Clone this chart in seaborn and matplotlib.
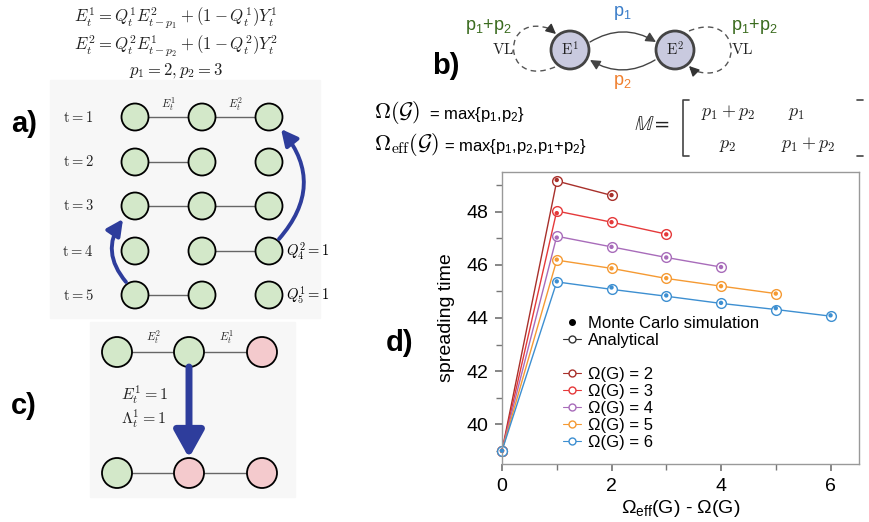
import numpy as np
import pandas as pd
import matplotlib
matplotlib.use('Agg')
import matplotlib.pyplot as plt
import seaborn as sns
from matplotlib.patches import Circle, FancyArrowPatch, PathPatch, Rectangle
from matplotlib.path import Path
from matplotlib.lines import Line2D
from matplotlib.ticker import MultipleLocator

# data of panel d
omega_values = [2, 3, 4, 5, 6]
dx_values = [0, 1, 2, 3, 4, 5, 6]
analytic_w2 = [39.0, 49.16, 48.62]
analytic_w3 = [39.0, 48.03, 47.61, 47.16]
analytic_w4 = [39.0, 47.08, 46.68, 46.28, 45.92]
analytic_w5 = [39.0, 46.18, 45.87, 45.49, 45.20, 44.92]
analytic_w6 = [39.0, 45.36, 45.08, 44.82, 44.55, 44.32, 44.07]
mc_w2 = [39.0, 49.20, 48.63]
mc_w3 = [39.0, 47.95, 47.61, 47.15]
mc_w4 = [39.0, 47.03, 46.68, 46.28, 45.92]
mc_w5 = [39.0, 46.20, 45.87, 45.50, 45.20, 44.92]
mc_w6 = [39.0, 45.38, 45.15, 44.85, 44.57, 44.37, 44.10]
omega_colors = ['#a8302b', '#e5393a', '#a86cba', '#f59a33', '#3d8fd1']
legend_labels = ['Ω(G) = 2', 'Ω(G) = 3', 'Ω(G) = 4', 'Ω(G) = 5', 'Ω(G) = 6']

rows = []
for w, an, mc in zip(omega_values,
                     [analytic_w2, analytic_w3, analytic_w4, analytic_w5, analytic_w6],
                     [mc_w2, mc_w3, mc_w4, mc_w5, mc_w6]):
    for dx, a, m in zip(dx_values, an, mc):
        rows.append({'omega': w, 'dx': dx, 'analytical': a, 'mc': m})
df = pd.DataFrame(rows)
palette = dict(zip(omega_values, omega_colors))

sns.set_theme(style='ticks')
plt.rcParams['font.family'] = ['Liberation Sans', 'DejaVu Sans']
plt.rcParams['text.color'] = 'black'
plt.rcParams['axes.labelcolor'] = 'black'
plt.rcParams['mathtext.fontset'] = 'custom'
plt.rcParams['mathtext.rm'] = 'Liberation Sans'
plt.rcParams['mathtext.it'] = 'Liberation Sans:italic'
plt.rcParams['mathtext.bf'] = 'Liberation Sans:bold'

fig = plt.figure(figsize=(8.7, 5.22), dpi=100)
fig.patch.set_facecolor('white')

# background axes in pixel coordinates for the diagrams
bg = fig.add_axes([0, 0, 1, 1])
bg.set_xlim(0, 870)
bg.set_ylim(522, 0)
bg.axis('off')

green = '#d3e8c9'
pink = '#f4cacd'
arrow_blue = '#2e3d9c'
cm = dict(math_fontfamily='cm', ha='center', va='center', color='#222222')


def node(x, y, r, fc, lw=1.3, ec='black'):
    bg.add_patch(Circle((x, y), r, fc=fc, ec=ec, lw=lw, zorder=3))


# ---- panel a ----
bg.add_patch(Rectangle((50, 80), 270, 238, color='#f7f7f7', zorder=0))
bg.text(176, 18, r'$E_t^1 = Q_t^1 E_{t-p_1}^2 + (1-Q_t^1)Y_t^1$', fontsize=12, **cm)
bg.text(176, 46, r'$E_t^2 = Q_t^2 E_{t-p_2}^1 + (1-Q_t^2)Y_t^2$', fontsize=12, **cm)
bg.text(176, 70, r'$p_1 = 2, p_2 = 3$', fontsize=12, **cm)

a_cols = [135, 202, 269]
a_rows = [117, 162, 206, 251, 295]
a_edges = [[(0, 1), (1, 2)], [(0, 1)], [(0, 1), (1, 2)], [(1, 2)], [(0, 1)]]
for i, (y, edges) in enumerate(zip(a_rows, a_edges)):
    bg.text(78, y, r'$\mathrm{t} = %d$' % (i + 1), fontsize=10.5, **cm)
    for c0, c1 in edges:
        bg.plot([a_cols[c0], a_cols[c1]], [y, y], color='#666666', lw=1, zorder=2)
    for x in a_cols:
        node(x, y, 13.5, green)
bg.text(168, 104, r'$E_t^1$', fontsize=8, **cm)
bg.text(235, 104, r'$E_t^2$', fontsize=8, **cm)
bg.text(286, 251, r'$Q_4^2 = 1$', fontsize=10.5, math_fontfamily='cm', ha='left', va='center')
bg.text(286, 295, r'$Q_5^1 = 1$', fontsize=10.5, math_fontfamily='cm', ha='left', va='center')
bg.add_patch(FancyArrowPatch((279, 239), (281, 129), connectionstyle='arc3,rad=0.42',
                             arrowstyle='-|>,head_length=0.7,head_width=0.35', mutation_scale=14,
                             color=arrow_blue, lw=2.8, shrinkA=0, shrinkB=0, zorder=4))
bg.add_patch(FancyArrowPatch((126, 282), (123, 219), connectionstyle='arc3,rad=-0.38',
                             arrowstyle='-|>,head_length=0.7,head_width=0.35', mutation_scale=14,
                             color=arrow_blue, lw=2.8, shrinkA=0, shrinkB=0, zorder=4))

# ---- panel c ----
bg.add_patch(Rectangle((90, 322), 205, 175, color='#f7f7f7', zorder=0))
c_cols = [117, 189, 262]
c_rows = [352, 473]
c_fill = [[green, green, pink], [green, pink, pink]]
for y, fills in zip(c_rows, c_fill):
    bg.plot([c_cols[0], c_cols[2]], [y, y], color='#666666', lw=1, zorder=2)
    for x, fc in zip(c_cols, fills):
        node(x, y, 15, fc)
bg.text(153, 337, r'$E_t^2$', fontsize=8, **cm)
bg.text(226, 337, r'$E_t^1$', fontsize=8, **cm)
bg.text(144, 395, r'$E_t^1 = 1$', fontsize=11.5, **cm)
bg.text(144, 419, r'$\Lambda_t^1 = 1$', fontsize=11.5, **cm)
bg.add_patch(FancyArrowPatch((189, 367), (189, 458), arrowstyle='-|>,head_length=0.9,head_width=0.5',
                             mutation_scale=18, color=arrow_blue, lw=5, shrinkA=0, shrinkB=0, zorder=4))

# ---- panel b ----
e1 = (570, 50)
e2 = (675, 50)
node(*e1, 19, '#c9cadf', lw=2, ec='#444444')
node(*e2, 19, '#c9cadf', lw=2, ec='#444444')
bg.text(*e1, r'$\mathrm{E}^1$', fontsize=11, zorder=5, **cm)
bg.text(*e2, r'$\mathrm{E}^2$', fontsize=11, zorder=5, **cm)
bg.add_patch(FancyArrowPatch((590, 42), (656, 42), connectionstyle='arc3,rad=-0.3',
                             arrowstyle='-|>,head_length=0.6,head_width=0.3', mutation_scale=10,
                             color='#444444', lw=1, shrinkA=0, shrinkB=0, zorder=4))
bg.add_patch(FancyArrowPatch((655, 60), (590, 60), connectionstyle='arc3,rad=-0.3',
                             arrowstyle='-|>,head_length=0.6,head_width=0.3', mutation_scale=10,
                             color='#444444', lw=1, shrinkA=0, shrinkB=0, zorder=4))
# dashed self loops
left_loop = Path([(555, 67), (500, 90), (500, 8), (553, 30)],
                 [Path.MOVETO, Path.CURVE4, Path.CURVE4, Path.CURVE4])
right_loop = Path([(689, 31), (745, 8), (745, 92), (690, 69)],
                  [Path.MOVETO, Path.CURVE4, Path.CURVE4, Path.CURVE4])
for p in (left_loop, right_loop):
    bg.add_patch(PathPatch(p, fc='none', ec='#555555', lw=1, ls=(0, (4, 3)), zorder=2))
bg.add_patch(FancyArrowPatch((549, 28), (556, 34), arrowstyle='-|>,head_length=0.6,head_width=0.3',
                             mutation_scale=10, color='#333333', lw=1, shrinkA=0, shrinkB=0, zorder=4))
bg.add_patch(FancyArrowPatch((695, 72), (689, 66), arrowstyle='-|>,head_length=0.6,head_width=0.3',
                             mutation_scale=10, color='#333333', lw=1, shrinkA=0, shrinkB=0, zorder=4))
bg.text(622, 13, 'p$_1$', color='#3a7dc9', fontsize=13, ha='center', va='center')
bg.text(622, 82, 'p$_2$', color='#f07f2d', fontsize=13, ha='center', va='center')
bg.text(488, 26, 'p$_1$+p$_2$', color='#3a6b1e', fontsize=13, ha='center', va='center')
bg.text(754, 26, 'p$_1$+p$_2$', color='#3a6b1e', fontsize=13, ha='center', va='center')
bg.text(503, 49, r'$\mathrm{VL}$', fontsize=11, **cm)
bg.text(742, 49, r'$\mathrm{VL}$', fontsize=11, **cm)

bg.text(374, 113, r'$\Omega(\mathcal{G})$', fontsize=16, math_fontfamily='cm', ha='left', va='center')
bg.text(429, 114, '= max{p$_1$,p$_2$}', fontsize=12, ha='left', va='center')
bg.text(374, 145, r'$\Omega_{\mathrm{eff}}(\mathcal{G})$', fontsize=16, math_fontfamily='cm', ha='left', va='center')
bg.text(444, 146, '= max{p$_1$,p$_2$,p$_1$+p$_2$}', fontsize=12, ha='left', va='center')

bg.text(652, 125, r'$\mathbb{M} =$', fontsize=15, math_fontfamily='stix', ha='center', va='center',
        color='#222222')
bg.plot([689, 683, 683, 689], [100, 100, 156, 156], color='#444444', lw=1.2)
bg.plot([857, 863], [100, 100], color='#444444', lw=1.2)
bg.plot([857, 863], [156, 156], color='#444444', lw=1.2)
bg.text(728, 113, r'$p_1 + p_2$', fontsize=13, **cm)
bg.text(797, 113, r'$p_1$', fontsize=13, **cm)
bg.text(728, 145, r'$p_2$', fontsize=13, **cm)
bg.text(808, 145, r'$p_1 + p_2$', fontsize=13, **cm)

# panel letters
for lbl, x, y in [('a)', 24, 124), ('b)', 446, 66), ('c)', 24, 406), ('d)', 400, 343)]:
    bg.text(x, y, lbl, fontsize=21, fontweight='bold', ha='center', va='center')

# ---- panel d ----
ax = fig.add_axes([502 / 870, 1 - 464 / 522, 357 / 870, 292 / 522])
ax.set_zorder(5)
ax.set_facecolor('white')
sns.lineplot(data=df, x='dx', y='analytical', hue='omega', palette=palette, estimator=None,
             marker='o', markersize=7, lw=1, legend=False, ax=ax)
for line in ax.lines:
    c = line.get_color()
    line.set_markeredgecolor(c)
    line.set_markerfacecolor('white')
    line.set_markeredgewidth(1)
    line.set_clip_on(False)
sns.scatterplot(data=df, x='dx', y='mc', hue='omega', palette=palette, s=10,
                edgecolor='none', legend=False, ax=ax, zorder=4)
for coll in ax.collections:
    coll.set_clip_on(False)

ax.set_xlim(0, 6.52)
ax.set_ylim(38.5, 49.5)
ax.set_xticks([0, 2, 4, 6])
ax.set_yticks([40, 42, 44, 46, 48])
ax.xaxis.set_minor_locator(MultipleLocator(1))
ax.yaxis.set_minor_locator(MultipleLocator(1))
for s in ax.spines.values():
    s.set_color('#999999')
    s.set_linewidth(1)
ax.tick_params(which='both', direction='out', color='#777777', labelcolor='black', top=False, right=False)
ax.tick_params(which='major', length=5, labelsize=14, pad=5)
ax.tick_params(which='minor', length=4)
ax.set_xlabel('Ω$_{\\mathrm{eff}}$(G) - Ω(G)', fontsize=14, labelpad=2)
ax.set_ylabel('spreading time', fontsize=14, labelpad=8)

handles = [Line2D([], [], color='black', marker='o', ls='none', markersize=4),
           Line2D([], [], color='#333333', marker='o', mfc='white', markersize=5, lw=0.8),
           Line2D([], [], color='none')]
labels = ['Monte Carlo simulation', 'Analytical', '']
for c, lbl in zip(omega_colors, legend_labels):
    handles.append(Line2D([], [], color=c, marker='o', mfc='white', markersize=5, lw=0.8))
    labels.append(lbl)
ax.legend(handles, labels, loc='upper left', bbox_to_anchor=(0.152, 0.53), frameon=False,
          fontsize=12, handlelength=1.1, handletextpad=0.4, labelspacing=0.12, borderaxespad=0)

fig.savefig('out.png', dpi=100)
